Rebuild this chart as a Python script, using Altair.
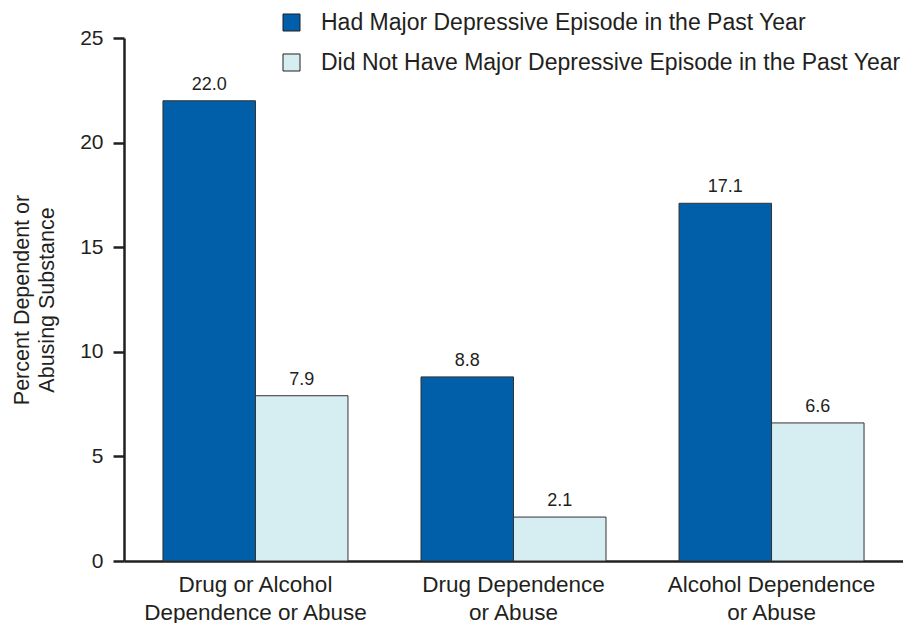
import altair as alt
import pandas as pd

categories = ["Drug or Alcohol\nDependence or Abuse", "Drug Dependence\nor Abuse", "Alcohol Dependence\nor Abuse"]
groups = ["Had Major Depressive Episode in the Past Year", "Did Not Have Major Depressive Episode in the Past Year"]
had_mde = [22.0, 8.8, 17.1]
no_mde = [7.9, 2.1, 6.6]

rows = []
for c, a, b in zip(categories, had_mde, no_mde):
    rows.append({"category": c, "group": groups[0], "value": a})
    rows.append({"category": c, "group": groups[1], "value": b})
df = pd.DataFrame(rows)

FONT = "Liberation Sans"
TXT = "#231f20"

x = alt.X("category:N", sort=categories, title=None,
          scale=alt.Scale(paddingInner=0.283, paddingOuter=0.151),
          axis=alt.Axis(labelAngle=0, ticks=False, domainColor="#231f20", domainWidth=2.5,
                        labelFontSize=22.5, labelColor=TXT, labelFont=FONT, labelPadding=12,
                        labelLimit=400, labelLineHeight=28,
                        labelExpr="split(datum.value, '\\n')"))
xo = alt.XOffset("group:N", sort=groups)
y = alt.Y("value:Q", scale=alt.Scale(domain=[0, 25], nice=False),
          title=["Percent Dependent or", "Abusing Substance"],
          axis=alt.Axis(values=[0, 5, 10, 15, 20, 25], grid=False, tickSize=11, tickWidth=2.5,
                        tickColor="#231f20", domainColor="#231f20", domainWidth=2.5,
                        labelFontSize=21, labelColor=TXT, labelFont=FONT, labelPadding=10,
                        titleFontSize=21.5, titleFontWeight="normal", titleColor=TXT, titleFont=FONT,
                        titleLineHeight=25, titlePadding=21, titleLimit=400))

bars = alt.Chart(df).mark_bar(stroke="#333333", strokeWidth=1).encode(
    x=x, xOffset=xo, y=y,
    color=alt.Color("group:N", sort=groups,
                    scale=alt.Scale(domain=groups, range=["#005FA8", "#D6EDF2"]),
                    legend=alt.Legend(title=None, orient="none", legendX=156, legendY=-27,
                                      symbolType="square", symbolSize=290, symbolStrokeColor="#231f20",
                                      symbolStrokeWidth=1, symbolOpacity=1,
                                      labelFontSize=23, labelFont=FONT, labelColor=TXT,
                                      labelOffset=18, rowPadding=16, labelLimit=800))
)

labels = alt.Chart(df).mark_text(dy=-11, baseline="alphabetic", fontSize=18, font=FONT, color=TXT).encode(
    x=alt.X("category:N", sort=categories), xOffset=xo, y="value:Q",
    text=alt.Text("value:Q", format=".1f")
)

chart = alt.layer(bars, labels).properties(
    width=779, height=523,
    background="white",
    autosize=alt.AutoSizeParams(type="none"),
    padding={"left": 124, "top": 38, "right": 0, "bottom": 62},
).configure_view(stroke=None)

chart.save("out.html", embed_options={"renderer": "svg", "actions": False})
